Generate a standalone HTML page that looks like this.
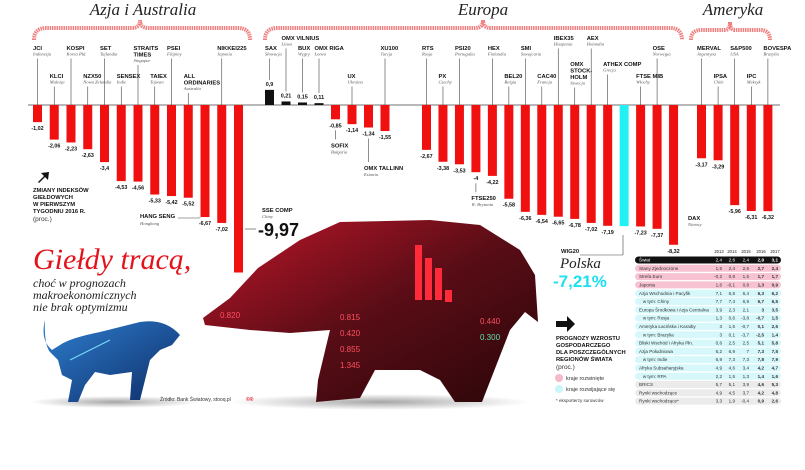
<!DOCTYPE html>
<html><head><meta charset="utf-8">
<style>
html,body{margin:0;padding:0;background:#fff;}
svg{display:block;font-family:"Liberation Sans",sans-serif;}
.n{font-size:5.8px;font-weight:bold;fill:#111;}
.c{font-size:4.6px;font-style:italic;font-family:"Liberation Serif",serif;fill:#555;}
.v{font-size:5.4px;font-weight:bold;fill:#111;}
.ttl{font-family:"Liberation Serif",serif;font-style:italic;font-size:17px;fill:#222;}
.tb{font-size:4.6px;fill:#222;}
</style></head>
<body>
<svg id="chart" width="805" height="470" viewBox="0 0 805 470">
<defs>
<linearGradient id="bearG" x1="0" y1="0" x2="1" y2="1">
<stop offset="0" stop-color="#c0162a"/><stop offset="0.5" stop-color="#5a0d16"/><stop offset="1" stop-color="#2a0609"/></linearGradient>
<linearGradient id="bullG" x1="0" y1="0" x2="1" y2="1">
<stop offset="0" stop-color="#2f7fd0"/><stop offset="1" stop-color="#0d2c66"/></linearGradient>
<radialGradient id="shadow"><stop offset="0" stop-color="#000" stop-opacity="0.35"/><stop offset="1" stop-color="#000" stop-opacity="0"/></radialGradient>
</defs>
<g id="regions">
<text class="ttl" x="143" y="15" text-anchor="middle">Azja i Australia</text>
<text class="ttl" x="483" y="15" text-anchor="middle">Europa</text>
<text class="ttl" x="733" y="15" text-anchor="middle">Ameryka</text>
<path d="M34 40 Q34 28 46 28 L132 28 Q140 28 140 20 Q140 28 148 28 L238 28 Q250 28 250 40" fill="none" stroke="#f08080" stroke-width="4" stroke-dasharray="1.5 0.8"/>
<path d="M265 40 Q265 28 277 28 L475 28 Q483 28 483 20 Q483 28 491 28 L670 28 Q682 28 682 40" fill="none" stroke="#f08080" stroke-width="4" stroke-dasharray="1.5 0.8"/>
<path d="M691 40 Q691 30 701 30 L725 30 Q730 30 730 22 Q730 30 735 30 L760 30 Q770 30 770 40" fill="none" stroke="#f08080" stroke-width="4" stroke-dasharray="1.5 0.8"/>
</g>
<line x1="28" y1="105" x2="780" y2="105" stroke="#444" stroke-width="0.8"/>
<g id="bars"></g>

<g>
<path d="M38 182 L44 176 L41 173 L49 172 L48 180 L45 177 L39 183 Z" fill="#111"/>
<text class="n" x="33" y="192">ZMIANY INDEKSÓW</text>
<text class="n" x="33" y="199">GIEŁDOWYCH</text>
<text class="n" x="33" y="206">W PIERWSZYM</text>
<text class="n" x="33" y="213">TYGODNIU 2016 R.</text>
<text x="33" y="221" style="font-size:6.5px;fill:#333">(proc.)</text>
</g>

<g>
<text x="33" y="269" style="font-family:'Liberation Serif',serif;font-style:italic;font-size:30px;fill:#e3131b">Giełdy tracą,</text>
<text x="33" y="287" style="font-family:'Liberation Serif',serif;font-style:italic;font-size:12px;fill:#222">choć w prognozach</text>
<text x="33" y="299" style="font-family:'Liberation Serif',serif;font-style:italic;font-size:12px;fill:#222">makroekonomicznych</text>
<text x="33" y="311" style="font-family:'Liberation Serif',serif;font-style:italic;font-size:12px;fill:#222">nie brak optymizmu</text>
</g>

<g>
<ellipse cx="115" cy="402" rx="85" ry="6" fill="url(#shadow)"/>
<path d="M45 320 Q40 340 52 350 L60 345 Q70 338 100 332 L140 322 Q165 318 180 335 L172 345 L160 350 L150 360 L140 400 L130 400 L132 372 L110 375 L95 372 L85 385 L78 402 L68 402 L72 380 L62 375 L58 360 L50 352 Q44 345 45 320 Z" fill="url(#bullG)"/>
<path d="M70 360 L100 345 L110 340" stroke="#7df" stroke-width="1" fill="none"/>
</g>
<text x="160" y="401" style="font-size:5px;fill:#333">Źródło: Bank Światowy, stooq.pl</text>
<text x="246" y="401" style="font-size:5px;fill:#e3131b;font-weight:bold">©®</text>

<g>
<ellipse cx="380" cy="402" rx="150" ry="8" fill="url(#shadow)"/>
<path d="M203 318 L230 298 L258 268 L300 240 L340 222 L430 220 L480 225 L520 250 L535 275 L538 322 L525 312 L510 330 L482 402 L455 402 L440 380 L420 370 L375 370 L360 398 L316 402 L318 380 L330 330 L290 333 L250 330 L205 325 Z" fill="url(#bearG)"/>
<rect x="415" y="245" width="7" height="55" fill="#ff2a3a"/><rect x="425" y="258" width="7" height="42" fill="#ff2a3a"/><rect x="435" y="268" width="7" height="32" fill="#ff2a3a"/><rect x="445" y="290" width="7" height="12" fill="#ff2a3a"/>
<text x="340" y="320" style="font-size:8px;fill:#ff5060">0.815</text><text x="340" y="336" style="font-size:8px;fill:#ff5060">0.420</text><text x="340" y="352" style="font-size:8px;fill:#ff5060">0.855</text><text x="340" y="368" style="font-size:8px;fill:#ff5060">1.345</text>
<text x="480" y="340" style="font-size:8px;fill:#5fe0b0">0.300</text><text x="480" y="324" style="font-size:8px;fill:#ff5060">0.440</text>
<text x="220" y="318" style="font-size:8px;fill:#ff5060">0.820</text>
</g>

<g>
<line x1="623" y1="235" x2="623" y2="255" stroke="#444" stroke-width="0.6"/>
<line x1="580" y1="255" x2="623" y2="255" stroke="#444" stroke-width="0.6"/>
<text class="n" x="561" y="253">WIG20</text>
<text x="560" y="268" style="font-family:'Liberation Serif',serif;font-style:italic;font-size:15px;fill:#222">Polska</text>
<text x="553" y="287" style="font-size:17px;font-weight:bold;fill:#1ee0f0">-7,21%</text>
</g>
<g>
<path d="M556 321 L567 321 L567 316 L575 324 L567 332 L567 327 L556 327 Z" fill="#111"/>
<text class="n" x="556" y="340">PROGNOZY WZROSTU</text>
<text class="n" x="556" y="347">GOSPODARCZEGO</text>
<text class="n" x="556" y="354">DLA POSZCZEGÓLNYCH</text>
<text class="n" x="556" y="361">REGIONÓW ŚWIATA</text>
<text x="556" y="369" style="font-size:6.5px;fill:#333">(proc.)</text>
<circle cx="559" cy="378" r="4" fill="#f7b8c8"/>
<text x="566" y="380" style="font-size:5.5px;fill:#333">kraje rozwinięte</text>
<circle cx="559" cy="389" r="4" fill="#c9f6fb"/>
<text x="566" y="391" style="font-size:5.5px;fill:#333">kraje rozwijające się</text>
<text x="556" y="402" style="font-size:4.5px;fill:#333">* eksporterzy surowców</text>
</g>
<g id="table"></g>
</svg>
<script>
var NS="http://www.w3.org/2000/svg";
var names=["JCI","KLCI","KOSPI","NZX50","SET","SENSEX","STRAITS TIMES","TAIEX","PSEI","ALL ORDINARIES","HANG SENG","NIKKEI225","SSE COMP",
"SAX","OMX VILNIUS","BUX","OMX RIGA","SOFIX","UX","OMX TALLINN","XU100","RTS","PX","PSI20","FTSE250","HEX","BEL20","SMI","CAC40","IBEX35","OMX STOCK-HOLM","AEX","ATHEX COMP","WIG20","FTSE MIB","OSE","DAX",
"MERVAL","IPSA","S&P500","IPC","BOVESPA"];
var countries=["Indonezja","Malezja","Korea Płd.","Nowa Zelandia","Tajlandia","Indie","Singapur","Tajwan","Filipiny","Australia","Hongkong","Japonia","Chiny",
"Słowacja","Litwa","Węgry","Łotwa","Bułgaria","Ukraina","Estonia","Turcja","Rosja","Czechy","Portugalia","W. Brytania","Finlandia","Belgia","Szwajcaria","Francja","Hiszpania","Szwecja","Holandia","Grecja","Polska","Włochy","Norwegia","Niemcy",
"Argentyna","Chile","USA","Meksyk","Brazylia"];
var values=[-1.02,-2.06,-2.23,-2.63,-3.4,-4.53,-4.56,-5.33,-5.42,-5.52,-6.67,-7.02,-9.97,
0.9,0.21,0.15,0.11,-0.85,-1.14,-1.34,-1.55,-2.67,-3.38,-3.53,-4,-4.22,-5.58,-6.36,-6.54,-6.65,-6.78,-7.02,-7.19,-7.21,-7.23,-7.37,-8.32,
-3.17,-3.29,-5.96,-6.31,-6.32];
var groups=[0,0,0,0,0,0,0,0,0,0,0,0,0, 1,1,1,1,1,1,1,1, 2,2,2,2,2,2,2,2,2,2,2,2,2,2,2,2, 3,3,3,3,3];
var labelMode=[0,1,0,1,0,1,0,1,0,1,2,0,5, 0,3,0,0,2,1,2,0,0,1,0,2,0,1,0,1,3,4,3,4,6,1,0,7, 0,1,0,1,0];
var baseY=105, unit=16.8, barW=9;
function xOf(i){var g=groups[i];var start=[33,265,422,697][g];var first=[0,13,21,37][g];var pitch=[16.75,16.5,16.47,16.6][g];return start+(i-first)*pitch;}
function yOf(v){return baseY-v*unit;}
function fmt(v){return String(v).replace(".",",");}
var gb=document.getElementById("bars");
function mk(tag,attrs,parent,txt){var e=document.createElementNS(NS,tag);for(var k in attrs)e.setAttribute(k,attrs[k]);if(txt!==undefined)e.textContent=txt;(parent||gb).appendChild(e);return e;}
var tops=[50,78,0,40,66,0,0,0];
for(var i=0;i<values.length;i++){
  var x=xOf(i),v=values[i],y0=yOf(Math.max(v,0)),h=Math.abs(v)*unit;
  var r=mk("rect",{x:x,y:y0,width:barW,height:h,fill:names[i]=="WIG20"?"#22f0f5":(v>0?"#111":"#f01010")});
  
  
  var cx=x+barW/2, m=labelMode[i];
  if(i==12){mk("text",{class:"v",x:258,y:236,style:"font-size:18px"},gb,fmt(v));continue;}
  if(names[i]!="WIG20"){
    var vt=mk("text",{class:"v",x:cx,y:v>0?y0-4:yOf(v)+8,"text-anchor":"middle"},gb,fmt(v));
    
    
  }
  var parts=names[i].split(" ");
  if(m==0||m==1||m==3||m==4){
    var ty=tops[m]; var lines=names[i].length>9&&parts.length>1?parts:[names[i]];
    if(names[i]=="OMX STOCK-HOLM")lines=["OMX","STOCK-","HOLM"];
    if(names[i]=="OMX VILNIUS"||names[i]=="OMX RIGA"||names[i]=="ATHEX COMP"||names[i]=="FTSE MIB")lines=[names[i]];
    for(var l=0;l<lines.length;l++){var t=mk("text",{class:"n",x:x,y:ty+l*6.5},gb,lines[l]);}
    mk("text",{class:"c",x:x,y:ty+lines.length*6.5-1},gb,countries[i]);
    mk("line",{x1:cx,y1:ty+lines.length*6.5+2,x2:cx,y2:v>0?y0-10:baseY,stroke:"#444","stroke-width":0.6},gb);
  } else if(m==2){
    var by=yOf(v)+28;
    if(names[i]=="HANG SENG"){mk("text",{class:"n",x:140,y:218},gb,names[i]);mk("text",{class:"c",x:140,y:225},gb,countries[i]);mk("line",{x1:178,y1:218,x2:x,y2:218,stroke:"#444","stroke-width":0.6},gb);continue;}
    if(names[i]=="OMX TALLINN")by=170;
    mk("line",{x1:cx,y1:yOf(v)+11,x2:cx,y2:by-8,stroke:"#444","stroke-width":0.6},gb);
    var t2=mk("text",{class:"n",x:x,y:by},gb,names[i]);
    mk("text",{class:"c",x:x,y:by+6},gb,countries[i]);
  } else if(m==7){
    mk("text",{class:"n",x:688,y:220},gb,names[i]);mk("text",{class:"c",x:688,y:226},gb,countries[i]);
  }
}
mk("line",{x1:245,y1:229,x2:256,y2:229,stroke:"#444","stroke-width":0.6},gb);
mk("text",{class:"n",x:262,y:212},gb,"SSE COMP");mk("text",{class:"c",x:262,y:218},gb,"Chiny");

var years=["2013","2014","2015","2016","2017"];
var rowNames=["Świat","Stany Zjednoczone","Strefa Euro","Japonia","Azja Wschodnia i Pacyfik","   w tym: Chiny","Europa Środkowa i Azja Centralna","   w tym: Rosja","Ameryka Łacińska i Karaiby","   w tym: Brazylia","Bliski Wschód i Afryka Płn.","Azja Południowa","   w tym: Indie","Afryka Subsaharyjska","   w tym: RPA","BRICS","Rynki wschodzące","Rynki wschodzące*"];
var rowVals=[[2.4,2.6,2.4,2.9,3.1],[1.5,2.4,2.5,2.7,2.4],[-0.2,0.9,1.5,1.7,1.7],[1.6,-0.1,0.8,1.3,0.9],[7.1,6.8,6.4,6.3,6.2],[7.7,7.3,6.9,6.7,6.5],[3.9,2.3,2.1,3,3.5],[1.3,0.6,-3.8,-0.7,1.5],[3,1.5,-0.7,0.1,2.5],[3,0.1,-3.7,-2.5,1.4],[0.6,2.5,2.5,5.1,5.8],[6.2,6.9,7,7.3,7.5],[6.9,7.3,7.3,7.8,7.9],[4.9,4.6,3.4,4.2,4.7],[2.2,1.5,1.3,1.4,1.6],[5.7,5.1,3.9,4.6,5.3],[4.9,4.5,3.7,4.2,4.8],[3.3,1.9,-0.4,0.9,2.6]];
var rowType=[0,1,1,1,2,2,2,2,2,2,2,2,2,2,2,3,3,3];
var gt=document.getElementById("table");
var colX=[719,732,746,761,775];
for(var j=0;j<years.length;j++)mk("text",{class:"tb",x:colX[j],y:253,"text-anchor":"middle",style:"font-size:4.2px"},gt,years[j]);
for(var r=0;r<rowNames.length;r++){
  var ry=260+r*8.3;
  var fill=["#111","#f7c3d3","#d6f8fb","#ebebeb"][rowType[r]];
  var bg=mk("rect",{x:635,y:ry-3.5,width:146,height:7,rx:3.5,fill:fill},gt);
  
  
  var col=rowType[r]==0?"#fff":"#333";
  mk("text",{class:"tb",x:639,y:ry+1.6,style:"fill:"+col+";white-space:pre"},gt,rowNames[r]);
  for(var j=0;j<5;j++)mk("text",{class:"tb",x:colX[j]+3,y:ry+1.6,"text-anchor":"end",style:"fill:"+col+(j>=3?";font-weight:bold":"")},gt,fmt(rowVals[r][j]));
}
</script>
</body></html>
